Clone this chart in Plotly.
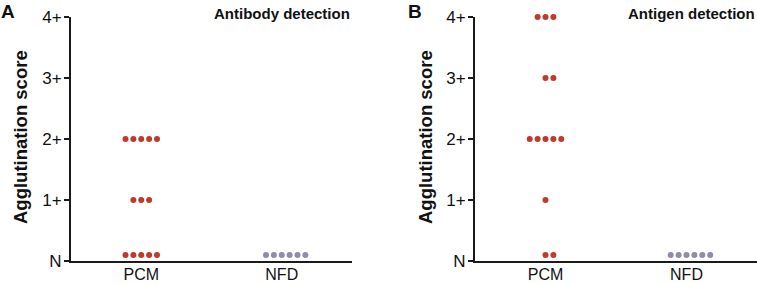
import plotly.graph_objects as go

# ---- data ----
groups = ["PCM", "NFD"]
score_ticks = [0, 1, 2, 3, 4]
score_labels = ["N", "1+", "2+", "3+", "4+"]

# agglutination scores per individual (0 = N)
antibody_pcm = [2, 2, 2, 2, 2, 1, 1, 1, 0, 0, 0, 0, 0]
antibody_nfd = [0, 0, 0, 0, 0, 0]
antigen_pcm = [4, 4, 4, 3, 3, 2, 2, 2, 2, 2, 1, 0, 0]
antigen_nfd = [0, 0, 0, 0, 0, 0]

panel_titles = ["Antibody detection", "Antigen detection"]
panel_letters = ["A", "B"]
y_title = "Agglutination score"

RED = "#c0392b"
GREY = "#8f8ba8"
FONT = "Arial, Liberation Sans, Helvetica, sans-serif"
SPACING = 0.056   # horizontal dot spacing (x data units)
N_LIFT = 0.1      # N values drawn just above the axis line


def swarm(scores, xpos):
    xs, ys = [], []
    for level in sorted(set(scores), reverse=True):
        n = scores.count(level)
        shift = 1 if n % 2 == 0 else 0
        for i in range(n):
            xs.append(xpos + (i - n // 2 + shift) * SPACING)
            ys.append(level if level > 0 else N_LIFT)
    return xs, ys


fig = go.Figure()
panels = [(antibody_pcm, antibody_nfd), (antigen_pcm, antigen_nfd)]
for k, (pcm, nfd) in enumerate(panels):
    xa = "x" if k == 0 else "x2"
    ya = "y" if k == 0 else "y2"
    for gi, (vals, col) in enumerate([(pcm, RED), (nfd, GREY)]):
        xs, ys = swarm(vals, gi)
        fig.add_trace(go.Scatter(
            x=xs, y=ys, mode="markers", xaxis=xa, yaxis=ya,
            marker=dict(color=col, size=6, line=dict(width=0)),
            cliponaxis=False, showlegend=False, hoverinfo="skip"))

W, H = 757, 283
TOP, BOT = 17, 261
PH = BOT - TOP


def py(pix):  # pixel row -> paper y
    return (BOT - pix) / PH


doms = [[71 / W, 352 / W], [475 / W, 1.0]]
for k in range(2):
    sfx = "" if k == 0 else "2"
    fig.update_layout(**{
        "xaxis" + sfx: dict(domain=doms[k], range=[-0.5, 1.5],
                            tickvals=[0, 1], ticktext=groups, ticks="",
                            ticklabelstandoff=-2,
                            showline=True, linewidth=2, linecolor="#1a1a1a",
                            showgrid=False, zeroline=False,
                            tickfont=dict(family=FONT, size=16, color="#111"),
                            anchor="y" + sfx, fixedrange=True),
        "yaxis" + sfx: dict(domain=[0, 1], range=[0, 4],
                            tickvals=score_ticks, ticktext=score_labels,
                            ticks="outside", ticklen=5, tickwidth=2,
                            tickcolor="#1a1a1a", ticklabelstandoff=-1,
                            showline=True, linewidth=2, linecolor="#1a1a1a",
                            showgrid=False, zeroline=False,
                            tickfont=dict(family=FONT, size=17, color="#111"),
                            anchor="x" + sfx, fixedrange=True),
    })

ann = []
title_x = [20, 425]
letter_x = [0, 407]
for k in range(2):
    ann.append(dict(text=y_title, textangle=-90, x=title_x[k] / W, y=py(137),
                    xref="paper", yref="paper", xanchor="center", yanchor="middle",
                    showarrow=False,
                    font=dict(family=FONT, size=18.5, color="#111", weight="bold")))
    ann.append(dict(text=panel_titles[k], x=doms[k][1], y=py(14),
                    xref="paper", yref="paper", xanchor="right", yanchor="middle",
                    showarrow=False,
                    font=dict(family=FONT, size=15, color="#111", weight="bold")))
    ann.append(dict(text=panel_letters[k], x=letter_x[k] / W, y=py(0),
                    xref="paper", yref="paper", xanchor="left", yanchor="top",
                    showarrow=False, borderpad=0,
                    font=dict(family=FONT, size=19, color="#111", weight="bold")))

fig.update_layout(
    width=W, height=H,
    margin=dict(l=0, r=0, t=TOP, b=H - BOT, autoexpand=False),
    paper_bgcolor="white", plot_bgcolor="white",
    annotations=ann,
)

fig.write_html("out.html", config={"displayModeBar": False},
               post_script="document.body.style.margin='0';"
                           "document.body.style.overflow='hidden';")
